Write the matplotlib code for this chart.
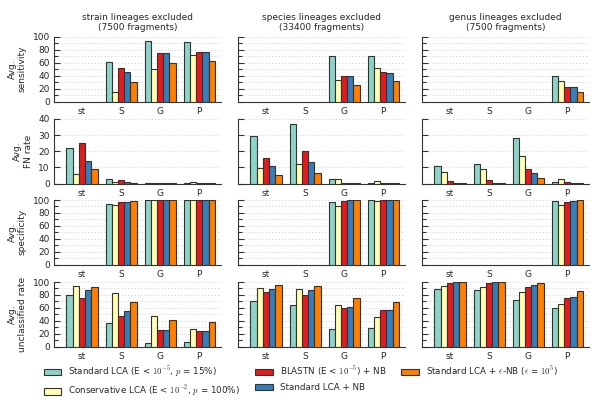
import numpy as np
import matplotlib
matplotlib.use("Agg")
import matplotlib.pyplot as plt
from matplotlib.ticker import MultipleLocator

plt.rcParams['font.family'] = ['DejaVu Sans']
plt.rcParams['mathtext.fontset'] = 'cm'
plt.rcParams['font.size'] = 6.5
TXT = '#262626'

ranks = ['st', 'S', 'G', 'P']
methods = ['Standard LCA (E < $10^{-5}$, $p$ = 15%)',
           'Conservative LCA (E < $10^{-2}$, $p$ = 100%)',
           'BLASTN (E < $10^{-5}$) + NB',
           'Standard LCA + NB',
           'Standard LCA + $\\epsilon$-NB ($\\epsilon$ = $10^5$)']
colors = ['#8dd3c7', '#ffffb3', '#e41a1c', '#377eb8', '#ff7f00']
col_titles = ['strain lineages excluded\n(7500 fragments)',
              'species lineages excluded\n(33400 fragments)',
              'genus lineages excluded\n(7500 fragments)']
row_labels = ['Avg.\nsensitivity', 'Avg.\nFN rate', 'Avg.\nspecificity', 'Avg.\nunclassified rate']
N = None

# each array: [method][rank]
sens_strain = [[N, 62, 94, 93], [N, 15, 51, 72], [N, 52, 75, 76], [N, 45, 75, 76], [N, 31, 59, 63]]
sens_species = [[N, N, 70, 71], [N, N, 34, 52], [N, N, 40, 45], [N, N, 39, 44], [N, N, 25, 32]]
sens_genus = [[N, N, N, 40], [N, N, N, 32], [N, N, N, 23], [N, N, N, 23], [N, N, N, 15]]

fn_strain = [[21.8, 2.5, 0.3, 0.3], [6.2, 1.2, 0.5, 0.7], [24.9, 1.9, 0.1, 0.2], [13.9, 0.8, 0.1, 0.1], [9.3, 0.2, 0.1, 0.1]]
fn_species = [[29.5, 36.9, 2.5, 0.6], [9.8, 12.1, 2.5, 1.6], [16.0, 20.3, 0.6, 0.6], [10.7, 13.5, 0.4, 0.2], [5.5, 6.8, 0.2, 0.1]]
fn_genus = [[11.1, 12.3, 28.5, 1.2], [7.4, 9.0, 16.8, 2.9], [1.8, 2.0, 9.0, 0.8], [0.6, 0.6, 6.4, 0.6], [0.2, 0.3, 3.3, 0.2]]

spec_strain = [[N, 94.4, 99.9, 99.9], [N, 91.8, 99.6, 99.6], [N, 96.4, 99.9, 99.9], [N, 96.4, 99.9, 99.9], [N, 98.5, 99.9, 99.9]]
spec_species = [[N, N, 96.4, 99.5], [N, N, 91.3, 98.0], [N, N, 98.0, 99.5], [N, N, 99.5, 99.6], [N, N, 99.5, 99.6]]
spec_genus = [[N, N, N, 98.0], [N, N, N, 92.3], [N, N, N, 96.4], [N, N, N, 98.5], [N, N, N, 99.5]]

unc_strain = [[79.5, 36.9, 6.2, 7.7], [94.4, 83.0, 47.7, 26.7], [75.9, 46.7, 26.2, 24.6], [87.2, 55.4, 26.2, 24.6], [91.8, 69.2, 41.5, 37.4]]
unc_species = [[70.8, 63.6, 27.7, 29.2], [90.8, 88.7, 63.6, 46.2], [84.6, 80.5, 60.0, 55.9], [89.7, 87.2, 61.0, 56.4], [95.4, 94.4, 75.4, 69.2]]
unc_genus = [[89.2, 87.7, 72.3, 59.0], [93.8, 92.3, 84.6, 66.2], [98.5, 98.5, 91.8, 75.4], [99.4, 99.5, 94.9, 77.4], [99.5, 99.6, 97.9, 85.6]]

data = [[sens_strain, sens_species, sens_genus],
        [fn_strain, fn_species, fn_genus],
        [spec_strain, spec_species, spec_genus],
        [unc_strain, unc_species, unc_genus]]
ylims = [100, 40, 100, 100]
majors = [20, 10, 20, 20]
minors = [10, 10, 10, 10]

W, H = 600, 404
fig = plt.figure(figsize=(W / 100, H / 100), dpi=100)
col_left = [54, 238, 422]
col_w = 167
row_top = [37, 119, 200, 282]
row_h = 64.5

x = np.arange(len(ranks))
bw = 0.16
handles = []
for r in range(4):
    for c in range(3):
        ax = fig.add_axes([col_left[c] / W, 1 - (row_top[r] + row_h) / H, col_w / W, row_h / H])
        vals = data[r][c]
        for m in range(5):
            h = np.array([np.nan if v is None else v for v in vals[m]], dtype=float)
            b = ax.bar(x + (m - 2) * bw, h, bw, color=colors[m], edgecolor='#333333',
                       linewidth=0.8, zorder=3)
            if r == 0 and c == 0:
                handles.append(b)
        ax.set_xlim(-0.72, 3.56)
        ax.set_ylim(0, ylims[r])
        ax.yaxis.set_major_locator(MultipleLocator(majors[r]))
        ax.yaxis.set_minor_locator(MultipleLocator(minors[r]))
        ax.set_xticks(x)
        ax.set_xticklabels(ranks, color=TXT)
        ax.tick_params(axis='x', length=0, pad=4, labelsize=6.5)
        ax.tick_params(axis='y', which='both', direction='in', color='#333333', labelcolor=TXT,
                       labelsize=6.5, pad=3)
        ax.tick_params(axis='y', which='major', length=4, width=0.8)
        ax.tick_params(axis='y', which='minor', length=3, width=0.8)
        ax.yaxis.grid(True, which='both', linestyle=(0, (2, 2)), color='#d9d9d9', linewidth=0.6, zorder=0)
        ax.set_axisbelow(True)
        for s in ['top', 'right']:
            ax.spines[s].set_visible(False)
        for s in ['left', 'bottom']:
            ax.spines[s].set_color('#333333')
            ax.spines[s].set_linewidth(0.8)
        if c > 0:
            ax.set_yticklabels([])
        else:
            ax.set_ylabel(row_labels[r], color=TXT, fontsize=6.5, labelpad=4)
        if r == 0:
            ax.set_title(col_titles[c], color=TXT, fontsize=6.5, pad=5)

fig.legend(handles, methods, loc='lower left', bbox_to_anchor=(36 / W, -3 / H), ncol=3,
           frameon=False, fontsize=6.3, handlelength=2.0, handleheight=0.8,
           columnspacing=1.7, labelspacing=0.55, labelcolor=TXT)

fig.savefig('out.png', dpi=100)
